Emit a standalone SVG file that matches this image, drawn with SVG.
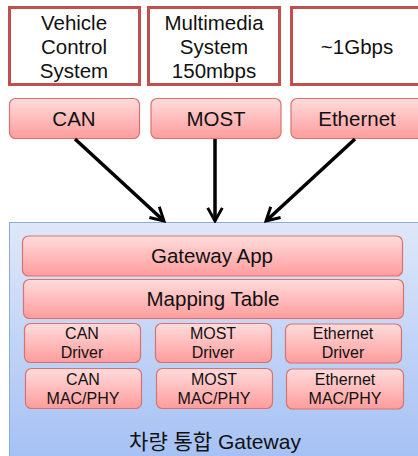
<svg xmlns="http://www.w3.org/2000/svg" width="418" height="456" viewBox="0 0 418 456">
<style>
text{font-family:"Liberation Sans","Noto Sans CJK KR",Arial,sans-serif;fill:#111;text-anchor:middle}
.t{font-size:20.5px}
.s{font-size:16px}
.k{font-size:21px}
.w{fill:#fff;stroke:#c0504d;stroke-width:3}
.p{fill:url(#pg);stroke:#d9726f;stroke-width:1.2}
.c{stroke:#000;stroke-width:3.5;fill:none}
</style>
<defs>
<linearGradient id="pg" x1="0" y1="0" x2="0" y2="1">
<stop offset="0" stop-color="#ffdcdc"/>
<stop offset="1" stop-color="#ff9c9c"/>
</linearGradient>
<linearGradient id="bg" x1="0" y1="0" x2="0" y2="1">
<stop offset="0" stop-color="#dfe8f9"/>
<stop offset="1" stop-color="#a4c0f4"/>
</linearGradient>
<marker id="ah" viewBox="0 0 12 12" refX="10.5" refY="6" markerWidth="5" markerHeight="5" orient="auto" markerUnits="strokeWidth">
<path d="M1.5,1 L10.5,6 L1.5,11" fill="none" stroke="#000" stroke-width="2"/>
</marker>
</defs>
<g id="vehicle-control"><rect class="w" x="9.5" y="7.5" width="130" height="77"/>
<text class="t" x="74" y="30">Vehicle<tspan x="74" dy="24">Control</tspan><tspan x="74" dy="24">System</tspan></text></g>
<g id="multimedia"><rect class="w" x="148.5" y="7.5" width="131" height="77"/>
<text class="t" x="214" y="30">Multimedia<tspan x="214" dy="24">System</tspan><tspan x="214" dy="24">150mbps</tspan></text></g>
<g id="gbps"><rect class="w" x="291.5" y="7.5" width="140" height="77"/>
<text class="t" x="357" y="54">~1Gbps</text></g>
<g id="can"><rect class="p" x="9.5" y="98.5" width="130" height="40" rx="6"/><text class="t" x="74" y="126">CAN</text></g>
<g id="most"><rect class="p" x="151" y="98.5" width="130" height="40" rx="6"/><text class="t" x="216" y="126">MOST</text></g>
<g id="ethernet"><rect class="p" x="291" y="98.5" width="140" height="40" rx="6"/><text class="t" x="357" y="126">Ethernet</text></g>
<g id="gateway"><rect x="9.5" y="222.5" width="420" height="240" fill="url(#bg)" stroke="#8eaadb" stroke-width="1"/>
<text class="k" x="215" y="449">차량 통합 Gateway</text></g>
<g id="gateway-app"><rect class="p" x="22.5" y="236" width="380" height="40" rx="6"/><text class="t" x="212" y="263">Gateway App</text></g>
<g id="mapping-table"><rect class="p" x="23.5" y="279.5" width="380" height="39" rx="6"/><text class="t" x="213" y="306">Mapping Table</text></g>
<g id="can-driver"><rect class="p" x="24.5" y="323.5" width="116" height="39" rx="6"/><text class="s" x="82" y="339">CAN<tspan x="82" dy="19">Driver</tspan></text></g>
<g id="most-driver"><rect class="p" x="155.5" y="323.5" width="116" height="39" rx="6"/><text class="s" x="213" y="339">MOST<tspan x="213" dy="19">Driver</tspan></text></g>
<g id="eth-driver"><rect class="p" x="285.5" y="324" width="116" height="39" rx="6"/><text class="s" x="343" y="339">Ethernet<tspan x="343" dy="19">Driver</tspan></text></g>
<g id="can-mac"><rect class="p" x="25.5" y="368.5" width="116" height="40" rx="6"/><text class="s" x="83" y="385">CAN<tspan x="83" dy="19">MAC/PHY</tspan></text></g>
<g id="most-mac"><rect class="p" x="156.5" y="368.5" width="116" height="40" rx="6"/><text class="s" x="214" y="385">MOST<tspan x="214" dy="19">MAC/PHY</tspan></text></g>
<g id="eth-mac"><rect class="p" x="286.5" y="369" width="117" height="40" rx="6"/><text class="s" x="345" y="385">Ethernet<tspan x="345" dy="19">MAC/PHY</tspan></text></g>
<g id="connectors">
<line class="c" x1="75" y1="139" x2="164" y2="221" marker-end="url(#ah)"/>
<line class="c" x1="215" y1="139" x2="215" y2="221" marker-end="url(#ah)"/>
<line class="c" x1="355" y1="139" x2="266" y2="221" marker-end="url(#ah)"/>
</g>
</svg>
